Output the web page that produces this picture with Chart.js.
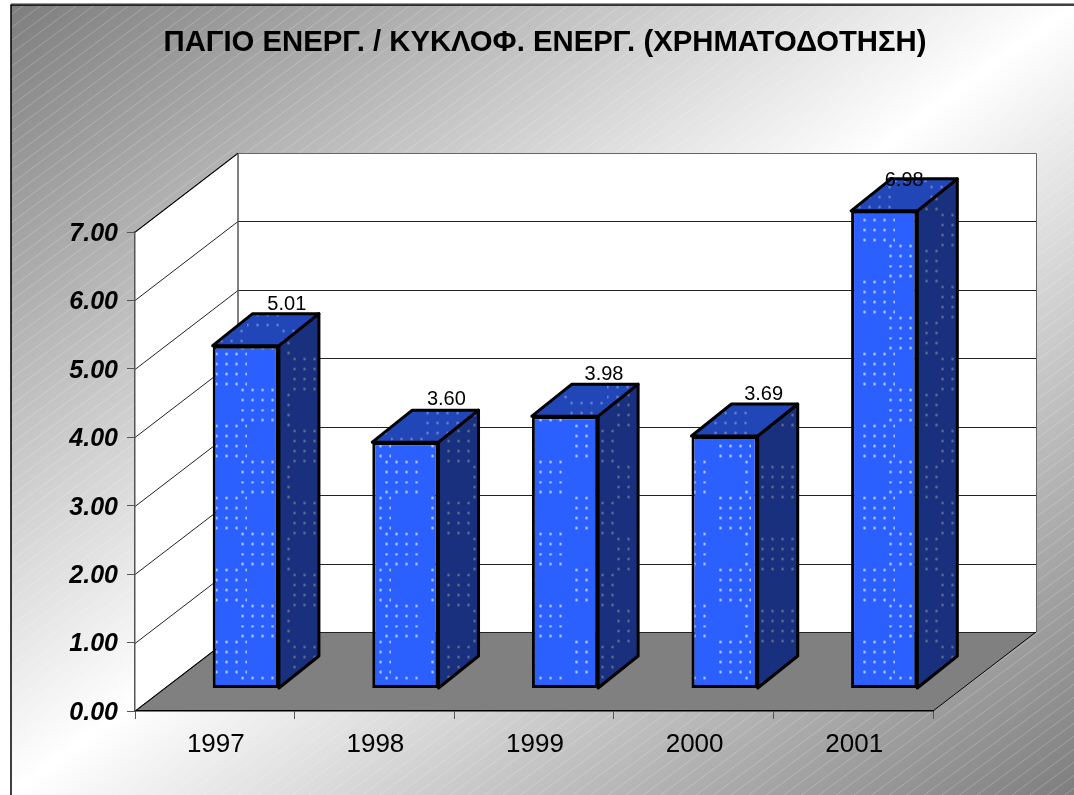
<!DOCTYPE html>
<html>
<head>
<meta charset="utf-8">
<style>
html,body{margin:0;padding:0;background:#fff;overflow:hidden}
canvas{display:block}
</style>
<script src="https://cdn.jsdelivr.net/npm/chart.js@4"></script>
</head>
<body>
<canvas id="c" width="1074" height="795"></canvas>
<script>
const titleText = 'ΠΑΓΙΟ ΕΝΕΡΓ. / ΚΥΚΛΟΦ. ΕΝΕΡΓ. (ΧΡΗΜΑΤΟΔΟΤΗΣΗ)';
const categories = ['1997', '1998', '1999', '2000', '2001'];
const values = [5.01, 3.60, 3.98, 3.69, 6.98];
const yMin = 0, yMax = 7, yStep = 1;

const FONT = '"Liberation Sans", Arial, sans-serif';
const WALL = {dx: 103, dy: -79};   // depth of the 3D box
const SHIFT = {dx: 31, dy: -22.5}; // bars stand this far behind the front edge
const BAR = {dx: 40, dy: -32};     // depth of a bar
const labelNudge = [[41,-9],[41,-11],[39,-10],[39,-10],[20,2]];

function dotTile(base, dot, ax, ay, bx, by, r) {
  const t = document.createElement('canvas');
  t.width = t.height = 72;
  const g = t.getContext('2d');
  g.fillStyle = base; g.fillRect(0, 0, 72, 72);
  g.fillStyle = dot;
  const put = (x0, y0) => {
    for (let i = 0; i < 4; i++) for (let j = 0; j < 4; j++) {
      const x = (x0 + i * 10) % 72, y = (y0 + j * 10) % 72;
      g.beginPath(); g.arc(x + .5, y + .5, r, 0, Math.PI * 2); g.fill();
    }
  };
  put(ax, ay); put(bx, by);
  return g.createPattern(t, 'repeat');
}
const mainCtx = document.getElementById('c').getContext('2d');
const frontFill = dotTile('#2b60ff', '#c4d4ff', 41, 16, 67, 52, 1.3);
const sideFill  = dotTile('#19307f', '#6c7590', 11, 57, 47, 21, 1.3);
const topFill   = dotTile('#2146b8', '#6f88d4', 0, 29, 36, 65, 1.3);

const box3d = {
  id: 'box3d',
  afterLayout(chart) {
    // title is centred on the slide panel, not on the plot
    chart.titleBlock.left = 16;
    chart.titleBlock.right = chart.width;
  },
  beforeDraw(chart) {
    const c = chart.ctx, W = chart.width, H = chart.height;
    const {x, y} = chart.scales;
    const L = x.left, R = x.right, B = y.getPixelForValue(yMin), T = y.getPixelForValue(yMax);
    const d = WALL;
    c.save();
    // slide panel: gray - white - gray along the diagonal
    const fx = 11, fy = 5;
    const pw = W - fx, ph = H - fy;
    const cx = fx + pw / 2, cy = fy + ph / 2;
    const k = (pw * ph) / (pw * pw + ph * ph);
    const ux = ph * k, uy = pw * k;
    const g = c.createLinearGradient(cx - ux, cy - uy, cx + ux, cy + uy);
    g.addColorStop(0, '#7e7e7e'); g.addColorStop(.5, '#ffffff'); g.addColorStop(1, '#7e7e7e');
    c.fillStyle = g; c.fillRect(fx, fy, pw, ph);
    c.beginPath(); c.rect(fx, fy, pw, ph); c.clip();
    c.strokeStyle = 'rgba(255,255,255,.25)'; c.lineWidth = .9;
    c.beginPath();
    for (let y0 = 0; y0 < H + W; y0 += 13) { c.moveTo(0, y0 + 10); c.lineTo(W, y0 + 10 - W * .74); }
    c.stroke();
    c.restore();
    c.save();
    c.strokeStyle = '#000'; c.lineWidth = 1.5;
    c.beginPath(); c.moveTo(11, H); c.lineTo(11, 5); c.lineTo(W, 5); c.stroke();
    c.strokeStyle = '#999'; c.lineWidth = 1;
    c.beginPath(); c.moveTo(11, 3.5); c.lineTo(W, 3.5); c.stroke();

    // walls
    c.fillStyle = '#fff';
    c.beginPath(); c.moveTo(L, B); c.lineTo(L, T); c.lineTo(L + d.dx, T + d.dy);
    c.lineTo(R + d.dx, T + d.dy); c.lineTo(R + d.dx, B + d.dy); c.lineTo(L + d.dx, B + d.dy); c.closePath(); c.fill();
    // floor
    c.fillStyle = '#808080';
    c.beginPath(); c.moveTo(L, B); c.lineTo(L + d.dx, B + d.dy); c.lineTo(R + d.dx, B + d.dy); c.lineTo(R, B); c.closePath(); c.fill();
    // grid lines
    c.strokeStyle = '#222'; c.lineWidth = 1;
    for (let v = yMin; v <= yMax; v += yStep) {
      const p = Math.round(y.getPixelForValue(v)) + .5;
      c.beginPath(); c.moveTo(L, p); c.lineTo(L + d.dx, p + d.dy); c.lineTo(R + d.dx, p + d.dy); c.stroke();
    }
    c.strokeStyle = '#555'; c.lineWidth = 1.5;
    c.beginPath(); c.moveTo(L + d.dx, B + d.dy); c.lineTo(L + d.dx, T + d.dy); c.stroke();
    c.lineWidth = 1; c.strokeStyle = '#666';
    c.beginPath(); c.moveTo(L + d.dx, T + d.dy + .5); c.lineTo(R + d.dx + .5, T + d.dy + .5); c.lineTo(R + d.dx + .5, B + d.dy); c.stroke();
    c.strokeStyle = '#000'; c.lineWidth = 1;
    c.beginPath(); c.moveTo(L, T); c.lineTo(L + d.dx, T + d.dy); c.stroke();
    c.beginPath(); c.moveTo(L, B); c.lineTo(L + d.dx, B + d.dy); c.moveTo(R, B); c.lineTo(R + d.dx, B + d.dy); c.stroke();
    c.restore();
  },
  beforeDatasetsDraw(chart) {
    const c = chart.ctx;
    c.save();
    c.translate(SHIFT.dx, SHIFT.dy);
    c.lineJoin = 'round'; c.strokeStyle = '#000'; c.lineWidth = 3;
    chart.getDatasetMeta(0).data.forEach(el => {
      const l = el.x - el.width / 2, r = el.x + el.width / 2, t = el.y, b = el.base;
      c.fillStyle = sideFill;
      c.beginPath(); c.moveTo(r, t); c.lineTo(r + BAR.dx, t + BAR.dy); c.lineTo(r + BAR.dx, b + BAR.dy); c.lineTo(r, b); c.closePath();
      c.fill(); c.stroke();
      c.fillStyle = topFill;
      c.beginPath(); c.moveTo(l, t); c.lineTo(l + BAR.dx, t + BAR.dy); c.lineTo(r + BAR.dx, t + BAR.dy); c.lineTo(r, t); c.closePath();
      c.fill(); c.stroke();
    });
  },
  afterDatasetsDraw(chart) {
    const c = chart.ctx;
    c.restore();
    c.save();
    c.fillStyle = '#000';
    c.font = '20px ' + FONT; c.textAlign = 'center'; c.textBaseline = 'middle';
    chart.getDatasetMeta(0).data.forEach((el, i) => {
      c.fillText(values[i].toFixed(2), el.x + SHIFT.dx + labelNudge[i][0], el.y + SHIFT.dy + BAR.dy + labelNudge[i][1]);
    });
    c.restore();
  }
};

new Chart(mainCtx, {
  type: 'bar',
  data: {
    labels: categories,
    datasets: [{
      data: values,
      backgroundColor: frontFill,
      borderColor: '#000',
      borderWidth: 3,
      borderSkipped: false,
      categoryPercentage: 1,
      barPercentage: 0.415,
      clip: false
    }]
  },
  plugins: [box3d],
  options: {
    responsive: false,
    animation: false,
    events: [],
    layout: {padding: {left: 16, right: 141, top: 0, bottom: 0}},
    plugins: {
      legend: {display: false},
      tooltip: {enabled: false},
      title: {
        display: true,
        text: titleText,
        color: '#000',
        font: {family: FONT, size: 29.3, weight: 'bold', lineHeight: 1.2},
        padding: {top: 25, bottom: 171.84}
      }
    },
    scales: {
      x: {
        afterFit(s) { s.height = 84; },
        grid: {display: true, drawOnChartArea: false, color: '#555', tickLength: 8, lineWidth: 1},
        border: {display: true, color: '#000', width: 1.5},
        ticks: {color: '#000', font: {family: FONT, size: 26}, padding: 10, maxRotation: 0, labelOffset: 1}
      },
      y: {
        min: yMin, max: yMax,
        afterFit(s) { s.width = 119; },
        grid: {display: true, drawOnChartArea: false, color: '#555', tickLength: 8, lineWidth: 1},
        border: {display: true, color: '#555', width: 1.5},
        ticks: {
          stepSize: yStep, color: '#000', padding: 9, labelOffset: 2,
          font: {family: FONT, size: 25, weight: 'bold', style: 'italic'},
          callback: v => v.toFixed(2)
        }
      }
    }
  }
});
</script>
</body>
</html>
